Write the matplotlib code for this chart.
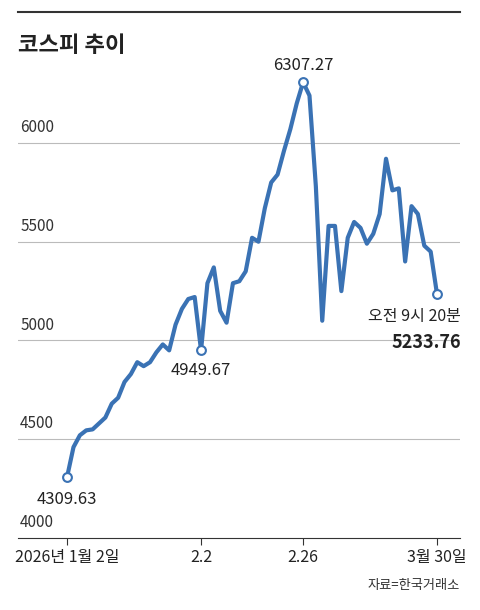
import matplotlib.pyplot as plt

plt.rcParams['font.family'] = ['Noto Sans CJK KR', 'DejaVu Sans']

# KOSPI closes by trading day (Jan 2 .. Mar 30, 2026)
kospi = [4309.63, 4460, 4520, 4545, 4550, 4580, 4610, 4680, 4710, 4790, 4830,
         4890, 4870, 4890, 4940, 4980, 4950, 5080, 5160, 5210, 5220, 4949.67,
         5290, 5370, 5150, 5090, 5290, 5300, 5350, 5520, 5500, 5670, 5800,
         5840, 5960, 6070, 6200, 6307.27,
         6240, 5780, 5100, 5580, 5580, 5250, 5520, 5600, 5570, 5490, 5540,
         5640, 5920, 5760, 5770, 5400, 5680, 5640, 5480, 5450, 5233.76]
tick_idx = [0, 21, 37, 58]
tick_labels = ['2026년 1월 2일', '2.2', '2.26', '3월 30일']
y_levels = [4500, 5000, 5500, 6000]
marked = [0, 21, 37, 58]

blue = '#3a72b4'
fig = plt.figure(figsize=(4.8, 6.1), dpi=100)
ax = fig.add_axes([18/480, 1-538/610, 442/480, 478/610])
ax.set_xlim(-7.7, 61.6)
ax.set_ylim(4000, 6420)

for v in y_levels:
    ax.axhline(v, color='#bbbbbb', lw=0.8, zorder=0)
    ax.text(0.005, v + 35, str(v), transform=ax.get_yaxis_transform(),
            fontsize=11, color='#333333', va='bottom')
ax.text(0.005, 4000 + 35, '4000', transform=ax.get_yaxis_transform(),
        fontsize=11, color='#333333', va='bottom')

x = list(range(len(kospi)))
ax.plot(x, kospi, color=blue, lw=3, solid_joinstyle='round', zorder=2)
ax.scatter([x[i] for i in marked], [kospi[i] for i in marked], s=40,
           facecolor='white', edgecolor=blue, lw=1.5, zorder=3)

ax.annotate(f'{kospi[0]:.2f}', (0, kospi[0]), xytext=(0, -10),
            textcoords='offset points', ha='center', va='top', fontsize=12, color='#222222')
ax.annotate(f'{kospi[21]:.2f}', (21, kospi[21]), xytext=(0, -8),
            textcoords='offset points', ha='center', va='top', fontsize=12, color='#222222')
ax.annotate(f'{kospi[37]:.2f}', (37, kospi[37]), xytext=(0, 6),
            textcoords='offset points', ha='center', va='bottom', fontsize=12, color='#222222')
ax.annotate('오전 9시 20분', (58, kospi[58]), xytext=(17, -10),
            textcoords='offset points', ha='right', va='top', fontsize=11.5, color='#222222')
ax.annotate(f'{kospi[58]:.2f}', (58, kospi[58]), xytext=(17, -28),
            textcoords='offset points', ha='right', va='top', fontsize=13,
            fontweight='bold', color='#222222')

for s in ['top', 'right', 'left']:
    ax.spines[s].set_visible(False)
ax.spines['bottom'].set_color('#333333')
ax.set_yticks([])
ax.set_xticks(tick_idx)
ax.set_xticklabels(tick_labels, fontsize=11.5, color='#222222')
ax.tick_params(axis='x', length=5, color='#333333', pad=3)

fig.add_artist(plt.Line2D([18/480, 460/480], [1-12/610, 1-12/610], color='#333333', lw=1.5))
fig.text(18/480, 1-45/610, '코스피 추이', fontsize=16, fontweight='bold', va='center', color='#222222')
fig.text(460/480, 1-585/610, '자료=한국거래소', fontsize=9.5, ha='right', va='center', color='#333333')

fig.savefig('out.png', dpi=100)
